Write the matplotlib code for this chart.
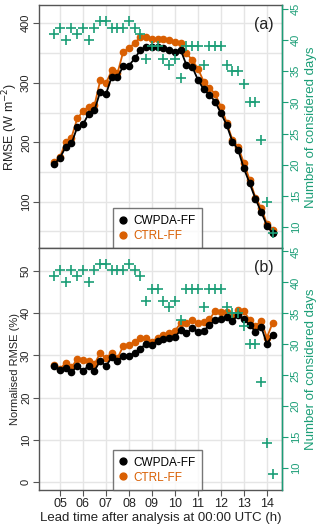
import matplotlib
matplotlib.use('Agg')
import matplotlib.pyplot as plt

plt.rcParams['font.family'] = ['Liberation Sans', 'DejaVu Sans']

# lead time (h) every 15 min
lead_time = [4.75, 5.0, 5.25, 5.5, 5.75, 6.0, 6.25, 6.5, 6.75, 7.0, 7.25, 7.5, 7.75,
             8.0, 8.25, 8.5, 8.75, 9.0, 9.25, 9.5, 9.75, 10.0, 10.25, 10.5, 10.75,
             11.0, 11.25, 11.5, 11.75, 12.0, 12.25, 12.5, 12.75, 13.0, 13.25, 13.5,
             13.75, 14.0, 14.25]
hour_ticks = [5, 6, 7, 8, 9, 10, 11, 12, 13, 14]
hour_labels = ['05', '06', '07', '08', '09', '10', '11', '12', '13', '14']

# panel (a): RMSE (W m-2)
rmse_cwpda = [163, 174, 192, 198, 225, 230, 248, 254, 285, 281, 310, 309, 328,
              329, 341, 355, 361, 360, 360, 358, 355, 352, 355, 330, 327, 305,
              289, 280, 268, 249, 229, 201, 187, 156, 131, 105, 83, 60, 47]
rmse_ctrl = [166, 175, 201, 208, 240, 252, 260, 262, 304, 299, 321, 316, 352,
             358, 367, 377, 377, 373, 373, 373, 372, 369, 367, 350, 338, 324,
             302, 292, 281, 260, 233, 204, 192, 165, 137, 107, 90, 63, 52]

# panel (b): normalised RMSE (%)
nrmse_cwpda = [27.4, 26.6, 27.1, 26.0, 27.5, 26.4, 27.5, 26.4, 28.7, 27.5, 29.5,
               28.7, 29.9, 29.9, 30.6, 31.6, 32.8, 32.4, 33.5, 33.8, 34.0, 34.3,
               36.0, 35.2, 36.4, 35.6, 35.8, 37.2, 38.3, 38.6, 39.0, 38.2, 39.5,
               38.5, 37.2, 35.6, 36.8, 32.7, 34.8]
nrmse_ctrl = [27.7, 26.7, 28.3, 27.2, 29.1, 28.9, 28.7, 27.9, 30.6, 29.3, 30.6,
              29.3, 32.2, 32.4, 33.2, 34.0, 34.0, 33.2, 34.2, 34.8, 35.3, 35.8,
              37.6, 37.6, 38.3, 37.7, 37.9, 38.5, 40.5, 40.3, 40.3, 39.3, 40.7,
              40.5, 38.3, 36.9, 38.2, 34.2, 37.7]

# number of considered days
n_days = [41, 42, 40, 42, 41, 42, 40, 42, 43, 43, 42, 42, 42, 43, 42, 41, 37, 39,
          39, 37, 36, 37, 34, 39, 39, 39, 36, 39, 39, 39, 36, 35, 35, 33, 30, 30,
          24, 14, 9]

BLACK = '#000000'
ORANGE = '#D95F02'
GREEN = '#1B9E77'
FRAME = '#555555'
GRID = '#E5E5E5'

fig = plt.figure(figsize=(3.2, 5.29), dpi=100)
ax_a = fig.add_axes([0.1228, 0.5306, 0.7594, 0.4594])
ax_b = fig.add_axes([0.1228, 0.0737, 0.7594, 0.4569])


def draw_panel(ax, cwpda, ctrl, ylim, yticks, grid_step, ylabel, ylabel_size,
               tag, days_lim, show_x):
    ax.set_xlim(4.1, 14.67)
    ax.set_ylim(*ylim)
    gy = ylim[0] - ylim[0] % grid_step
    while gy <= ylim[1]:
        ax.axhline(gy, color=GRID, lw=1, zorder=0)
        gy += grid_step
    for h in hour_ticks:
        ax.axvline(h, color=GRID, lw=1, zorder=0)

    ax.plot(lead_time, cwpda, color=BLACK, lw=1.3, marker='o', ms=4.5, zorder=3,
            label='CWPDA-FF')
    ax.plot(lead_time, ctrl, color=ORANGE, lw=1.3, marker='o', ms=4.5, zorder=2,
            label='CTRL-FF')

    ax.set_yticks(yticks)
    ax.set_xticks(hour_ticks)
    ax.tick_params(axis='y', labelrotation=90, labelsize=8, length=4, pad=2,
                   color=FRAME, labelcolor='#222222')
    for lab in ax.get_yticklabels():
        lab.set_va('center')
    ax.tick_params(axis='x', labelsize=9, length=4, pad=2, color=FRAME,
                   labelcolor='#222222')
    if show_x:
        ax.set_xticklabels(hour_labels)
        ax.set_xlabel('Lead time after analysis at 00:00 UTC (h)', fontsize=9.5,
                      labelpad=1, color='#222222')
    else:
        ax.set_xticklabels([])
    ax.set_ylabel(ylabel, fontsize=ylabel_size, color='#222222')
    ax.yaxis.set_label_coords(-0.078, 0.5)
    for s in ax.spines.values():
        s.set_color(FRAME)
        s.set_linewidth(1)

    leg = ax.legend(loc='lower left', bbox_to_anchor=(0.302, 0.0), borderaxespad=0,
                    fontsize=8.5, frameon=True, fancybox=False, edgecolor=FRAME,
                    handlelength=0.6, handletextpad=0.6, borderpad=0.55,
                    labelspacing=0.25, markerscale=1.1)
    leg.get_frame().set_linewidth(1)
    leg.get_texts()[0].set_color(BLACK)
    leg.get_texts()[1].set_color(ORANGE)
    for line in leg.get_lines():
        line.set_linestyle('none')
    leg.set_zorder(10)

    ax.text(0.965, 0.92, tag, transform=ax.transAxes, ha='right', va='center',
            fontsize=11.5, color='#222222', zorder=10)

    tw = ax.twinx()
    tw.set_ylim(*days_lim)
    tw.plot(lead_time, n_days, linestyle='none', marker='+', ms=7.5, mew=1.2,
            color=GREEN)
    tw.set_yticks([10, 15, 20, 25, 30, 35, 40, 45])
    tw.tick_params(axis='y', labelrotation=90, labelsize=8, length=4, pad=2,
                   color=GREEN, labelcolor=GREEN)
    for lab in tw.get_yticklabels():
        lab.set_va('center')
    tw.spines['right'].set_color(GREEN)
    tw.spines['right'].set_linewidth(1)
    for k in ('left', 'top', 'bottom'):
        tw.spines[k].set_visible(False)
    tw.set_ylabel('Number of considered days', fontsize=9.5, color=GREEN,
                  labelpad=3)
    return tw


draw_panel(ax_a, rmse_cwpda, rmse_ctrl, (21.7, 430.3), [100, 200, 300, 400], 50,
           r'RMSE (W m$^{-2}$)', 9, '(a)', (6.58, 45.6), False)
draw_panel(ax_b, nrmse_cwpda, nrmse_ctrl, (-1.82, 55.3), [0, 10, 20, 30, 40, 50], 10,
           'Normalised RMSE (%)', 8, '(b)', (6.49, 45.5), True)

fig.savefig('out.png', dpi=100)
